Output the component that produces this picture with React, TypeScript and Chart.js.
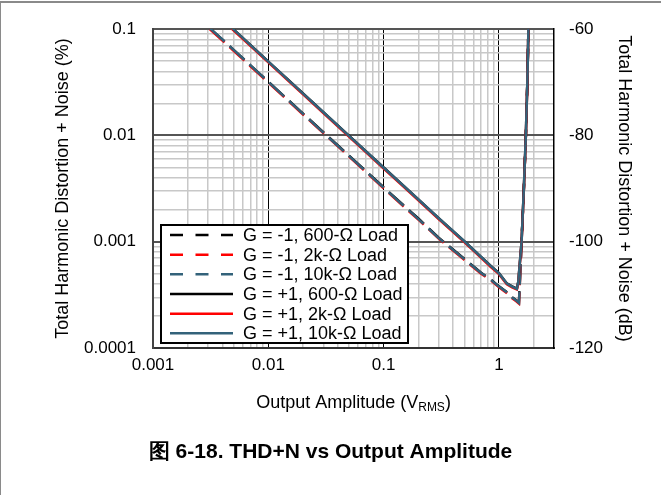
import React, { useEffect, useRef } from 'react';
import { Chart, registerables } from 'chart.js';

Chart.register(...registerables);

// ---------- data ----------
const seriesLabels = [
  'G = -1, 600-Ω Load',
  'G = -1, 2k-Ω Load',
  'G = -1, 10k-Ω Load',
  'G = +1, 600-Ω Load',
  'G = +1, 2k-Ω Load',
  'G = +1, 10k-Ω Load',
];
const seriesColors = ['#000000', '#ff0000', '#33627a', '#000000', '#ff0000', '#33627a'];
const seriesDashed = [true, true, true, false, false, false];

// G = -1 output amplitude (V RMS)
const vNeg = [0.0031, 0.004, 0.005, 0.007, 0.01, 0.015, 0.02, 0.03, 0.05, 0.07, 0.1, 0.15, 0.2, 0.3, 0.5, 0.7, 0.85, 1.0, 1.15, 1.3, 1.42, 1.49, 1.57, 1.64, 1.71, 1.76, 1.8];
const thdNeg600 = [0.102, 0.0795, 0.0636, 0.0455, 0.0319, 0.0213, 0.016, 0.0107, 0.00645, 0.00462, 0.00325, 0.00218, 0.00165, 0.00109, 0.00069, 0.00051, 0.00044, 0.00038, 0.00034, 0.0003, 0.00028, 0.000268, 0.001, 0.003, 0.01, 0.03, 0.1];
const thdNeg2k = [0.1, 0.078, 0.0624, 0.0446, 0.0313, 0.0209, 0.0157, 0.0105, 0.00633, 0.00453, 0.00318, 0.00213, 0.00161, 0.00107, 0.000675, 0.0005, 0.000432, 0.000372, 0.000333, 0.000294, 0.000274, 0.000262, 0.00098, 0.00295, 0.0098, 0.0295, 0.1];
const thdNeg10k = [0.102, 0.0796, 0.0637, 0.0455, 0.0318, 0.0212, 0.0159, 0.0106, 0.0064, 0.00458, 0.00322, 0.00216, 0.00163, 0.00108, 0.000685, 0.000507, 0.000438, 0.000378, 0.000338, 0.000298, 0.000278, 0.000266, 0.001, 0.003, 0.01, 0.03, 0.1];

// G = +1 output amplitude (V RMS)
const vPos = [0.0048, 0.006, 0.008, 0.01, 0.015, 0.02, 0.03, 0.05, 0.07, 0.1, 0.15, 0.2, 0.3, 0.5, 0.7, 0.85, 1.0, 1.17, 1.3, 1.43, 1.47, 1.57, 1.64, 1.71, 1.76, 1.8];
const thdPos600 = [0.103, 0.0825, 0.0618, 0.0494, 0.033, 0.0248, 0.0165, 0.00995, 0.0071, 0.00498, 0.00333, 0.0025, 0.00166, 0.00101, 0.00072, 0.00059, 0.000505, 0.000405, 0.00038, 0.000362, 0.00042, 0.001, 0.003, 0.01, 0.03, 0.1];
const thdPos2k = [0.101, 0.081, 0.0606, 0.0485, 0.0324, 0.0243, 0.0162, 0.00975, 0.00697, 0.00488, 0.00327, 0.00245, 0.00163, 0.00099, 0.000706, 0.000578, 0.000495, 0.000397, 0.000372, 0.000355, 0.00041, 0.00098, 0.00295, 0.0098, 0.0295, 0.1];
const thdPos10k = [0.103, 0.0824, 0.0617, 0.0493, 0.0329, 0.0247, 0.0165, 0.0099, 0.00708, 0.00496, 0.00332, 0.00249, 0.00166, 0.00101, 0.000718, 0.000588, 0.000503, 0.000403, 0.000378, 0.00036, 0.00042, 0.001, 0.003, 0.01, 0.03, 0.1];

const seriesX = [vNeg, vNeg, vNeg, vPos, vPos, vPos];
const seriesY = [thdNeg600, thdNeg2k, thdNeg10k, thdPos600, thdPos2k, thdPos10k];
const seriesOrder = [5, 4, 3, 2, 1, 0];

// axes
const xGridValues = [
  0.001, 0.002, 0.003, 0.004, 0.005, 0.006, 0.007, 0.008, 0.009,
  0.01, 0.02, 0.03, 0.04, 0.05, 0.06, 0.07, 0.08, 0.09,
  0.1, 0.2, 0.3, 0.4, 0.5, 0.6, 0.7, 0.8, 0.9,
  1, 2,
];
const xTickValues = [0.001, 0.01, 0.1, 1];
const xTickLabels = ['0.001', '0.01', '0.1', '1'];
const yGridValues = [
  0.0001, 0.0002, 0.0003, 0.0004, 0.0005, 0.0006, 0.0007, 0.0008, 0.0009,
  0.001, 0.002, 0.003, 0.004, 0.005, 0.006, 0.007, 0.008, 0.009,
  0.01, 0.02, 0.03, 0.04, 0.05, 0.06, 0.07, 0.08, 0.09,
  0.1,
];
const yTickValues = [0.0001, 0.001, 0.01, 0.1];
const yTickLabels = ['0.0001', '0.001', '0.01', '0.1'];
const dbTickValues = [-120, -100, -80, -60];

const xTitleMain = 'Output Amplitude (V';
const xTitleSub = 'RMS';
const xTitleEnd = ')';
const yTitle = 'Total Harmonic Distortion + Noise (%)';
const y1Title = 'Total Harmonic Distortion + Noise (dB)';
const caption = '图 6-18. THD+N vs Output Amplitude';

const FONT = '"Liberation Sans", Arial, sans-serif';
const FS_TICK = 17;
const FS = 18;

const near = (a: number, b: number) => Math.abs(Math.log10(a) - Math.log10(b)) < 1e-6;
const isDecade = (v: number) => {
  const l = Math.log10(v);
  return Math.abs(l - Math.round(l)) < 1e-6;
};
const labelFrom = (vals: number[], labels: string[], v: number) => {
  const i = vals.findIndex((t) => near(t, v));
  return i >= 0 ? labels[i] : '';
};

const overlayPlugin = {
  id: 'overlay',
  afterDatasetsDraw(chart: any) {
    const { ctx, chartArea } = chart;
    ctx.save();
    // legend box
    const left = chartArea.left + 8;
    const width = 247;
    const height = 118;
    const top = chartArea.bottom - 5 - height;
    const rowH = 19.66;
    ctx.fillStyle = '#ffffff';
    ctx.fillRect(left, top, width, height);
    ctx.lineWidth = 2;
    ctx.strokeStyle = '#000000';
    ctx.setLineDash([]);
    ctx.strokeRect(left, top, width, height);
    chart.data.datasets.forEach((ds: any, i: number) => {
      const y = top + 10 + i * rowH;
      ctx.beginPath();
      ctx.setLineDash(seriesDashed[i] ? [13, 12.5] : []);
      ctx.strokeStyle = ds.borderColor;
      ctx.lineWidth = 2.5;
      ctx.moveTo(left + 9, y);
      ctx.lineTo(left + 72, y);
      ctx.stroke();
      ctx.setLineDash([]);
      ctx.fillStyle = '#000000';
      ctx.font = `${FS}px ${FONT}`;
      ctx.textBaseline = 'middle';
      ctx.textAlign = 'left';
      ctx.fillText(ds.label, left + 82, y + 1);
    });
    ctx.restore();
  },
  afterDraw(chart: any) {
    const { ctx, chartArea } = chart;
    ctx.save();
    // x title with subscript
    const cx = (chartArea.left + chartArea.right) / 2;
    const ty = chartArea.bottom + 55;
    ctx.fillStyle = '#000000';
    ctx.textBaseline = 'middle';
    ctx.textAlign = 'left';
    ctx.font = `${FS}px ${FONT}`;
    const w1 = ctx.measureText(xTitleMain).width;
    const w3 = ctx.measureText(xTitleEnd).width;
    ctx.font = `12px ${FONT}`;
    const w2 = ctx.measureText(xTitleSub).width;
    let x = cx - (w1 + w2 + w3) / 2;
    ctx.font = `${FS}px ${FONT}`;
    ctx.fillText(xTitleMain, x, ty);
    x += w1;
    ctx.font = `12px ${FONT}`;
    ctx.fillText(xTitleSub, x, ty + 5);
    x += w2;
    ctx.font = `${FS}px ${FONT}`;
    ctx.fillText(xTitleEnd, x, ty);
    // caption
    ctx.font = `bold 21px ${FONT}`;
    ctx.textAlign = 'center';
    ctx.fillText(caption, chart.width / 2, chartArea.bottom + 104);
    ctx.restore();
  },
};

export default function App() {
  const canvasRef = useRef<HTMLCanvasElement | null>(null);

  useEffect(() => {
    const canvas = canvasRef.current;
    if (!canvas) return;
    const datasets = seriesLabels.map((label, i) => ({
      label,
      data: seriesX[i].map((v, j) => ({ x: v, y: seriesY[i][j] })),
      borderColor: seriesColors[i],
      backgroundColor: seriesColors[i],
      borderWidth: 2.5,
      borderDash: seriesDashed[i] ? [20, 7] : [],
      pointRadius: 0,
      tension: 0,
      fill: false,
      order: seriesOrder[i],
      clip: 0,
      xAxisID: 'x',
      yAxisID: 'y',
    }));

    const chart = new Chart(canvas, {
      type: 'line',
      data: { datasets },
      options: {
        responsive: false,
        animation: false,
        devicePixelRatio: 1,
        layout: { padding: { top: 29, left: 0, right: 0, bottom: 0 } },
        plugins: {
          legend: { display: false },
          tooltip: { enabled: false },
          title: { display: false },
        },
        scales: {
          x: {
            type: 'logarithmic',
            position: 'bottom',
            min: 0.001,
            max: 3,
            afterBuildTicks: (s: any) => {
              s.ticks = xGridValues.map((v) => ({ value: v }));
            },
            afterFit: (s: any) => {
              s.height = 147;
            },
            ticks: {
              autoSkip: false,
              maxRotation: 0,
              minRotation: 0,
              padding: 7,
              color: '#000000',
              font: { family: FONT, size: FS_TICK },
              callback: (v: any) => labelFrom(xTickValues, xTickLabels, Number(v)),
            },
            grid: {
              drawTicks: false,
              color: (c: any) => (c.tick && isDecade(c.tick.value) ? '#000000' : '#c8c8c8'),
              lineWidth: (c: any) => (c.tick && isDecade(c.tick.value) ? 1 : 1.5),
            },
            border: { display: true, color: '#333333', width: 2 },
            title: { display: false },
          },
          y: {
            type: 'logarithmic',
            position: 'left',
            min: 0.0001,
            max: 0.1,
            afterBuildTicks: (s: any) => {
              s.ticks = yGridValues.map((v) => ({ value: v }));
            },
            afterFit: (s: any) => {
              s.width = 153;
            },
            ticks: {
              autoSkip: false,
              padding: 17,
              color: '#000000',
              font: { family: FONT, size: FS_TICK },
              callback: (v: any) => labelFrom(yTickValues, yTickLabels, Number(v)),
            },
            grid: {
              drawTicks: false,
              color: (c: any) => (c.tick && isDecade(c.tick.value) ? '#555555' : '#c8c8c8'),
              lineWidth: (c: any) => (c.tick && isDecade(c.tick.value) ? 2 : 1.5),
            },
            border: { display: true, color: '#444444', width: 2 },
            title: {
              display: true,
              text: yTitle,
              color: '#000000',
              font: { family: FONT, size: FS },
              padding: { top: 52, bottom: 0 },
            },
          },
          y1: {
            type: 'linear',
            position: 'right',
            min: -120,
            max: -60,
            afterBuildTicks: (s: any) => {
              s.ticks = dbTickValues.map((v) => ({ value: v }));
            },
            afterFit: (s: any) => {
              s.width = 107;
            },
            ticks: {
              padding: 15,
              color: '#000000',
              font: { family: FONT, size: FS_TICK },
              callback: (v: any) => String(v),
            },
            grid: { display: false, drawTicks: false },
            border: { display: true, color: '#000000', width: 1.5 },
            title: {
              display: true,
              text: y1Title,
              color: '#000000',
              font: { family: FONT, size: FS },
              padding: { top: 26, bottom: 0 },
            },
          },
        },
      } as any,
      plugins: [overlayPlugin],
    });
    return () => chart.destroy();
  }, []);

  return (
    <div style={{ position: 'absolute', left: 0, top: 0, width: 661, height: 495, background: '#ffffff' }}>
      <canvas ref={canvasRef} width={661} height={495} style={{ position: 'absolute', left: 0, top: 0, width: 661, height: 495 }} />
      <div
        style={{
          position: 'absolute',
          left: 0,
          top: 1,
          width: 661,
          height: 494,
          borderTop: '2px solid #8a8a8a',
          borderLeft: '1px solid #8a8a8a',
          boxSizing: 'border-box',
          pointerEvents: 'none',
        }}
      />
    </div>
  );
}
